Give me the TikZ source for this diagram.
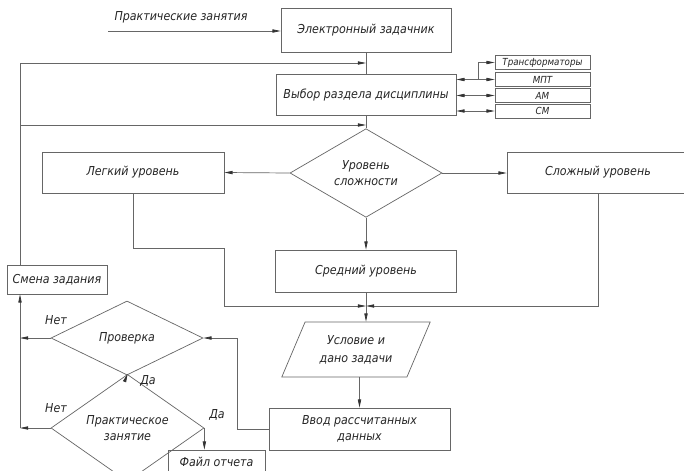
\documentclass[tikz,border=0pt]{standalone}
\usepackage{fontspec}
\setmainfont{DejaVu Sans Condensed Oblique}
\usetikzlibrary{arrows.meta,shapes.geometric,calc}
\begin{document}
\begin{tikzpicture}[x=0.03cm,y=-0.03cm,
  ln/.style={draw=black!60,line width=0.6pt},
  tip/.style={},
  arr/.style={ln,-{Triangle[length=7pt,width=2.8pt,color=black!80]}},
  darr/.style={ln,{Triangle[length=7pt,width=2.8pt,color=black!80]}-{Triangle[length=7pt,width=2.8pt,color=black!80]}},
  box/.style={ln,rectangle,inner sep=1pt,align=center,text=black!85,font=\fontsize{10.5}{13.5}\selectfont},
  sbox/.style={ln,rectangle,inner sep=0pt,minimum width=2.85cm,minimum height=0.42cm,text=black!85,font=\fontsize{8.3}{9}\selectfont},
  dia/.style={ln,diamond,inner sep=0pt,align=center,text=black!85,font=\fontsize{10.5}{13.5}\selectfont},
  lbl/.style={text=black!85,font=\fontsize{10.5}{12}\selectfont,inner sep=0pt}]
\useasboundingbox (0,0) rectangle (684,470);
\fill[white] (0,0) rectangle (684,470);
% nodes
\node[lbl] (pz) at (181,17) {Практические занятия};
\coordinate (pstart) at (108,31);
\node[box,minimum width=5.1cm,minimum height=1.32cm] (ez) at (366,30) {Электронный задачник};
\node[box,minimum width=5.4cm,minimum height=1.23cm] (vyb) at (366,94.5) {Выбор раздела дисциплины};
\node[sbox] (tr) at (542.5,62.5) {Трансформаторы};
\node[sbox] (mpt) at (542.5,79.5) {МПТ};
\node[sbox] (am) at (542.5,95.5) {АМ};
\node[sbox] (sm) at (542.5,111) {СМ};
\node[dia,minimum width=4.56cm,minimum height=2.25cm] (ur) at (366,173) {Уровень\\сложности};
\node[box,minimum width=5.46cm,minimum height=1.23cm] (leg) at (133,172.5) {Легкий уровень};
\node[box,minimum width=5.46cm,minimum height=1.23cm] (slo) at (598,172.5) {Сложный уровень};
\node[box,minimum width=5.43cm,minimum height=1.26cm] (sre) at (366,271) {Средний уровень};
\node[box,minimum width=3.0cm,minimum height=0.87cm] (smena) at (57,279.5) {Смена задания};
\node[ln,trapezium,trapezium left angle=60,trapezium right angle=120,trapezium stretches=true,
  minimum width=4.47cm,minimum height=1.65cm,inner sep=0pt,align=center,text=black!85,
  font=\fontsize{10.5}{15.5}\selectfont] (par) at (356,349.5) {Условие и\\дано задачи};
\node[box,minimum width=5.43cm,minimum height=1.26cm] (vvod) at (359.5,429) {Ввод рассчитанных\\данных};
\node[dia,minimum width=4.56cm,minimum height=2.22cm] (prov) at (127,338) {Проверка};
\node[dia,minimum width=4.59cm,minimum height=2.22cm] (prak) at (127.5,428) {Практическое\\занятие};
\node[box,minimum width=2.91cm,minimum height=0.72cm] (fail) at (216.5,462) {Файл отчета};
\node[lbl] (net1) at (56,320) {Нет};
\node[lbl] (da1) at (148,381) {Да};
\node[lbl] (net2) at (56,408) {Нет};
\node[lbl] (da2) at (217,415) {Да};
% coordinates
\coordinate (j1) at (366,63);
\coordinate (j2) at (366,125);
\coordinate (lb) at (20,428);
\coordinate (m) at (366,306);
% connectors
\draw[arr] (pstart) -- (ez.west |- pstart);
\draw[ln] (ez.south) -- (vyb.north);
\draw[ln] (vyb.south) -- (ur.north);
\draw[arr] (lb |- smena.north) -- (lb |- j1) -- (j1);
\draw[arr] (lb |- j2) -- (j2);
\draw[darr] (vyb.east |- mpt.west) -- (mpt.west);
\draw[darr] (vyb.east |- am.west) -- (am.west);
\draw[darr] (vyb.east |- sm.west) -- (sm.west);
\draw[arr] ($(mpt.west)+(-16,0)$) |- (tr.west);
\draw[arr] (ur.west) -- (leg.east);
\draw[arr] (ur.east) -- (slo.west |- ur.east);
\draw[arr] (ur.south) -- (sre.north);
\draw[arr] (leg.south) -- (133,248) -- (224,248) -- (224,306) -- (m);
\draw[arr] (slo.south) -- (slo.south |- m) -- (m);
\draw[arr] (sre.south) -- (sre.south |- par.north);
\draw[arr] (vvod.north |- par.south) -- (vvod.north);
\draw[arr] (vvod.west) -- ++(-31,0) |- (prov.east);
\draw[arr] (prov.west) -- (lb |- prov.west);
\draw[arr] (prak.west) -- (lb);
\draw[arr] (lb) -- (lb |- smena.south);
\draw[arr] (prov.south) -- (prak.north);
\draw[arr] (prak.east) -- (prak.east |- fail.north);
\end{tikzpicture}
\end{document}
